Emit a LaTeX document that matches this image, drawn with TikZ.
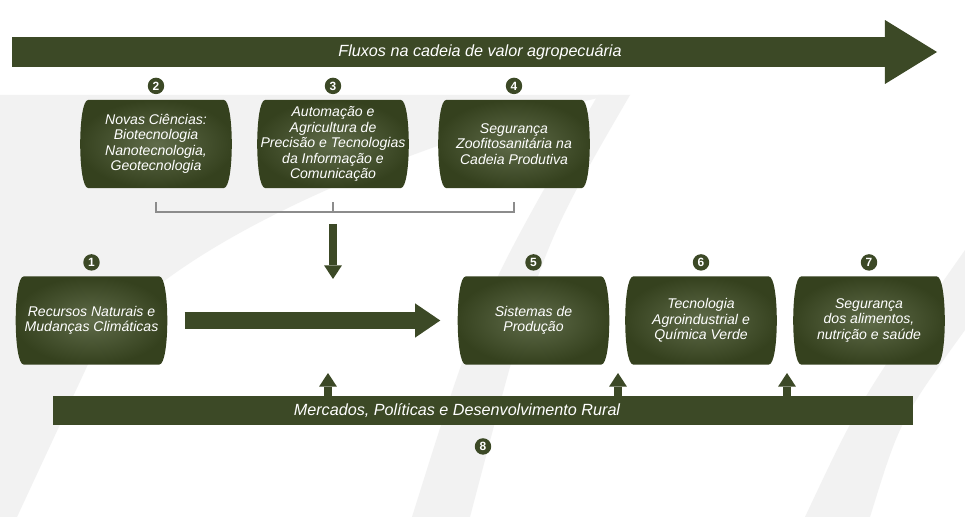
\documentclass[tikz,border=0pt]{standalone}
\usepackage{fontspec}
\setsansfont{Liberation Sans}
\usetikzlibrary{positioning,calc,arrows.meta}
\definecolor{verde}{HTML}{3C4926}
\definecolor{verdeclaro}{HTML}{5F6B49}
\definecolor{verdeescuro}{HTML}{35411E}
\definecolor{marca}{HTML}{F2F2F2}
\definecolor{chavecor}{HTML}{8C8C8C}
\pgfdeclarelayer{fundo}
\pgfdeclarelayer{caixas}
\pgfsetlayers{fundo,caixas,main}
\tikzset{caixa/.style={
    minimum width=108pt, minimum height=62.3pt, inner sep=0pt,
    align=center, text=white,
    font=\sffamily\itshape\fontsize{10}{11}\selectfont},
  num/.style={circle, fill=verde, text=white, inner sep=0pt,
    minimum size=11.7pt, font=\sffamily\bfseries\fontsize{8.5}{8.5}\selectfont},
  faixa/.style={text=white, font=\sffamily\itshape\fontsize{11.5}{12}\selectfont},
  setagrande/.style={color=verde, line width=12.1pt,
    -{Triangle[width=24.2pt,length=17.8pt,line width=0pt]}},
  setinha/.style={color=verde, line width=5.7pt,
    -{Triangle[width=12.6pt,length=9.6pt,line width=0pt]}},
  chave/.style={draw=chavecor, line width=0.9pt}}
% contorno em barril por tras do no
\newcommand{\barril}[1]{%
  \begin{pgfonlayer}{caixas}
    \shade[inner color=verdeclaro, outer color=verdeescuro]
      ([xshift=6pt]#1.north west) -- ([xshift=-6pt]#1.north east)
      .. controls ([xshift=1.6pt]#1.north east) and ([xshift=1.6pt]#1.south east)
      .. ([xshift=-6pt]#1.south east) -- ([xshift=6pt]#1.south west)
      .. controls ([xshift=-1.6pt]#1.south west) and ([xshift=-1.6pt]#1.north west)
      .. cycle;
  \end{pgfonlayer}}

\begin{document}
\begin{tikzpicture}[x=0.025cm, y=-0.025cm]
\useasboundingbox (0,0) rectangle (965,517);

  % marca d'agua
\begin{pgfonlayer}{fundo}
  \fill[white] (0,0) rectangle (965,517);
  \fill[marca] (0,95) -- (610,95) .. controls (380,150) and (140,260) .. (90,360)
    -- (17,517) -- (0,517) -- cycle;
  \fill[marca] (598,95) -- (630,95) .. controls (540,250) .. (470,517) -- (412,517)
    .. controls (480,300) .. cycle;
  \fill[marca] (965,250) -- (965,330) .. controls (900,420) .. (870,517) -- (805,517)
    .. controls (860,400) .. cycle;
\end{pgfonlayer}

  % fluxo
\coordinate (fluxoini) at (12,52);
\coordinate (fluxofim) at (937,52);
\draw[color=verde, line width=21.3pt,
  -{Triangle[width=45.5pt,length=37pt,line width=0pt]}] (fluxoini) -- (fluxofim);
\node[faixa] (fluxo) at (480,52) {Fluxos na cadeia de valor agropecuária};

  % caixas de cima
\node[caixa] (b2) at (156,144) {Novas Ciências:\\Biotecnologia\\Nanotecnologia,\\Geotecnologia};
\node[caixa] (b3) at (333,144) {Automação e\\Agricultura de\\Precisão e Tecnologias\\da Informação e\\Comunicação};
\node[caixa] (b4) at (514,144) {Segurança\\Zoofitosanitária na\\Cadeia Produtiva};

  % caixas de baixo
\node[caixa] (b1) at (91.5,320.5) {Recursos Naturais e\\Mudanças Climáticas};
\node[caixa] (b5) at (533.5,320.5) {Sistemas de\\Produção};
\node[caixa] (b6) at (701,320.5) {Tecnologia\\Agroindustrial e\\Química Verde};
\node[caixa] (b7) at (869,320.5) {Segurança\\dos alimentos,\\nutrição e saúde};

\foreach \b in {b1,b2,b3,b4,b5,b6,b7}
  \barril{\b};

  % numeros
\node[num, above=3.9pt of b1] (n1) {1};
\node[num, above=3.9pt of b2] (n2) {2};
\node[num, above=3.9pt of b3] (n3) {3};
\node[num, above=3.9pt of b4] (n4) {4};
\node[num, above=3.9pt of b5] (n5) {5};
\node[num, above=3.9pt of b6] (n6) {6};
\node[num, above=3.9pt of b7] (n7) {7};

  % chave
\coordinate (chave) at (b3.south |- 0,212);
\draw[chave] ($(b2.south)+(0,14)$) -- (b2.south |- chave) -- (b4.south |- chave) -- ($(b4.south)+(0,14)$);
\draw[chave] ($(b3.south)+(0,14)$) -- (chave);
\coordinate (desce) at (chave |- 0,279);
\draw[setinha, shorten <=8.5pt] (chave) -- (desce);

  % seta principal
\draw[setagrande, shorten <=12.1pt, shorten >=12.1pt] (b1.east) -- (b5.west);

  % mercados
\node[fill=verde, minimum width=611.7pt, minimum height=20.6pt, inner sep=0pt] (mercados) at (483,410.5) {};
\node[faixa] (mercadostxt) at (457,411) {Mercados, Políticas e Desenvolvimento Rural};
\node[num, below=9pt of mercados] (n8) {8};
\foreach \x in {328,618,787}
{
  \coordinate (sobe) at (\x,373);
  \draw[setinha] (sobe |- mercados.north) -- (sobe);
}
\end{tikzpicture}
\end{document}
